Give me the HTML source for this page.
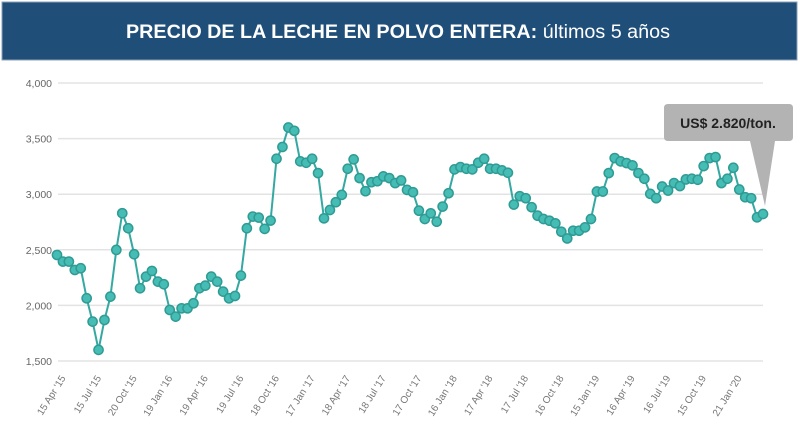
<!DOCTYPE html>
<html><head><meta charset="utf-8"><style>
body{margin:0;background:#fff;}
svg{display:block;font-family:"Liberation Sans",sans-serif;}
</style></head><body>
<svg id="chart" width="800" height="446" viewBox="0 0 800 446">
<rect x="0" y="0" width="800" height="446" fill="#fff"/>
<rect x="2" y="2" width="795" height="58" fill="#1f4e79" stroke="#8aa0b8" stroke-width="1"/>
<text x="398" y="38" text-anchor="middle" fill="#fff" font-size="19" textLength="544" lengthAdjust="spacingAndGlyphs"><tspan font-weight="bold">PRECIO DE LA LECHE EN POLVO ENTERA:</tspan> últimos 5 años</text>
<g id="grid"></g><g id="yl"></g><g id="xl"></g><g id="series"></g>
<g>
<path d="M668,104 H789 Q793,104 793,108 V137 Q793,141 789,141 H775 L765,206 L750,141 H668 Q664,141 664,137 V108 Q664,104 668,104 Z" fill="#b3b3b3"/>
<text x="728" y="128" text-anchor="middle" font-size="14" font-weight="bold" fill="#222">US$ 2.820/ton.</text>
</g>
</svg>
<script>
const yTicks=[1500,2000,2500,3000,3500,4000];
const xLabels=["15 Apr '15","15 Jul '15","20 Oct '15","19 Jan '16","19 Apr '16","19 Jul '16","18 Oct '16","17 Jan '17","18 Apr '17","18 Jul '17","17 Oct '17","16 Jan '18","17 Apr '18","17 Jul '18","16 Oct '18","15 Jan '19","16 Apr '19","16 Jul '19","15 Oct '19","21 Jan '20"];
const prices=[2454,2394,2394,2319,2334,2064,1854,1600,1869,2079,2499,2829,2694,2460,2154,2259,2310,2214,2190,1959,1899,1974,1974,2019,2154,2178,2259,2214,2124,2064,2085,2268,2694,2799,2790,2688,2763,
3319,3425,3600,3570,3295,3283,3319,3190,2783,2858,2928,2994,3229,3313,3145,3027,3108,3117,3160,3145,3100,3124,3039,3018,2852,2777,2828,2753,2889,3009,3223,3244,3229,3223,3283,3319,3229,3229,3214,3193,2907,2982,2964,2883,2807,
2777,2762,2738,2663,2602,2672,2672,2702,2777,3024,3024,3190,3325,3295,3280,3259,3190,3139,3003,2964,3069,3033,3100,3073,3133,3139,3130,3253,3325,3334,3100,3139,3238,3042,2973,2964,2792,2822];
const NS="http://www.w3.org/2000/svg";
const x0=57,x1=763,yTop=83,yBot=361,vMin=1500,vMax=4000;
const X=i=>x0+(x1-x0)*i/(prices.length-1);
const Y=v=>yBot-(v-vMin)/(vMax-vMin)*(yBot-yTop);
function mk(tag,attrs,parent){const e=document.createElementNS(NS,tag);for(const k in attrs)e.setAttribute(k,attrs[k]);parent.appendChild(e);return e;}
const grid=document.getElementById('grid'),yl=document.getElementById('yl'),xl=document.getElementById('xl'),ser=document.getElementById('series');
yTicks.forEach(t=>{
 const l=mk('line',{x1:58,x2:763,y1:Y(t),y2:Y(t),stroke:'#e3e3e3','stroke-width':1.5},grid);
 
 
 const tx=mk('text',{x:52,y:Y(t)+4,'text-anchor':'end','font-size':10.5,fill:'#666'},yl);
 tx.textContent=t.toLocaleString('en-US');
 
 
});
xLabels.forEach((s,i)=>{
 const lx=66+i*(742-66)/(xLabels.length-1);
 const tx=mk('text',{x:lx,y:378,'text-anchor':'end','font-size':10,fill:'#777',transform:`rotate(-58 ${lx} 378)`},xl);
 tx.textContent=s;
 
 
});
const path=mk('polyline',{points:prices.map((v,i)=>X(i)+','+Y(v)).join(' '),fill:'none',stroke:'#35a8a1','stroke-width':2},ser);


prices.forEach((v,i)=>{
 const c=mk('circle',{cx:X(i),cy:Y(v),r:4.6,fill:'#45bdb5',stroke:'#2f9b94','stroke-width':1.5},ser);
 
 
});
</script>
</body></html>
